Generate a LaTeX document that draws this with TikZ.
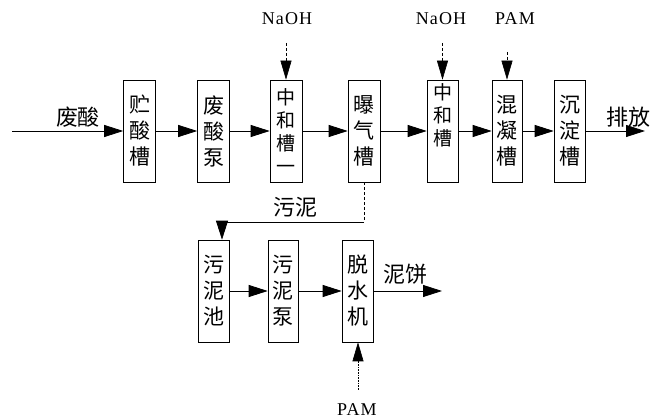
\documentclass[tikz,border=0pt]{standalone}
\usepackage{fontspec}
\setmainfont{Liberation Serif}
\newfontfamily\cjk{Noto Sans CJK SC}
\newfontfamily\chemfont[LetterSpace=6]{Liberation Serif}
\usetikzlibrary{arrows.meta}
\begin{document}
\begin{tikzpicture}[x=1pt,y=-1pt,
  tank/.style={draw, line width=0.6pt, minimum width=32pt, minimum height=102pt,
    inner sep=0pt, align=center, font=\cjk\fontsize{21}{26}\selectfont},
  flow/.style={line width=0.8pt, -{Triangle[length=19pt,width=12pt]}},
  feed/.style={line width=0.6pt, densely dashed, -{Triangle[length=19pt,width=11pt]}},
  lbl/.style={font=\cjk\fontsize{22}{24}\selectfont, inner sep=0pt},
  chem/.style={font=\chemfont\fontsize{18}{20}\selectfont, inner sep=0pt}]
\useasboundingbox (0,0) rectangle (651,419);
% main row
\node[tank] (t1) at (139.5,131) {贮\\酸\\槽};
\node[tank] (t2) at (213.5,131) {废\\酸\\泵};
\node[tank, font=\cjk\fontsize{19}{23}\selectfont] (t3) at (286,131) {中\\和\\槽\\一};
\node[tank] (t4) at (364,131) {曝\\气\\槽};
\node[tank, minimum width=31pt, font=\cjk\fontsize{19}{23}\selectfont] (t5) at (442.5,131) {中\\和\\槽\\[10pt]};
\node[tank, minimum width=30pt] (t6) at (507,131) {混\\凝\\槽};
\node[tank, minimum width=31pt] (t7) at (569.5,131) {沉\\淀\\槽};
% lower row
\node[tank, minimum width=31pt] (s1) at (213.5,291) {污\\泥\\池};
\node[tank, minimum width=30pt] (s2) at (283,291) {污\\泥\\泵};
\node[tank, minimum width=31pt] (s3) at (357.5,291) {脱\\水\\机};
% labels
\node[lbl] (in) at (78,117) {废酸};
\node[lbl] (out) at (628,117) {排放};
\node[lbl] (sl) at (295,207) {污泥};
\node[lbl] (cake) at (405,274) {泥饼};
\node[chem] (n1) at (287,19) {NaOH};
\node[chem] (n2) at (441,19) {NaOH};
\node[chem] (p1) at (515,19) {PAM};
\node[chem] (p2) at (357,410) {PAM};
% coordinates
\coordinate (start) at (12,131);
\coordinate (end) at (645,131);
\coordinate (cakeend) at (442,291);
\coordinate (a) at (364,222);
\coordinate (b) at (222,222);
\coordinate (f1) at (286,43);
\coordinate (f2) at (442.5,43);
\coordinate (f3) at (507,52);
\coordinate (f4) at (358,390);
% flows
\draw[flow] (start) -- (t1.west);
\draw[flow] (t1) -- (t2);
\draw[flow] (t2) -- (t3);
\draw[flow] (t3) -- (t4);
\draw[flow] (t4) -- (t5);
\draw[flow] (t5) -- (t6);
\draw[flow] (t6) -- (t7);
\draw[flow] (t7.east) -- (end);
\draw[line width=0.6pt, densely dashed] (t4.south) -- (a);
\draw[flow] (a) -- (b) -- (b |- s1.north);
\draw[flow] (s1) -- (s2);
\draw[flow] (s2) -- (s3);
\draw[flow] (s3.east |- cakeend) -- (cakeend);
\draw[feed] (f1) -- (t3.north);
\draw[feed] (f2) -- (t5.north);
\draw[feed] (f3) -- (t6.north);
\draw[feed, densely dotted] (f4) -- (f4 |- s3.south);
\end{tikzpicture}
\end{document}
